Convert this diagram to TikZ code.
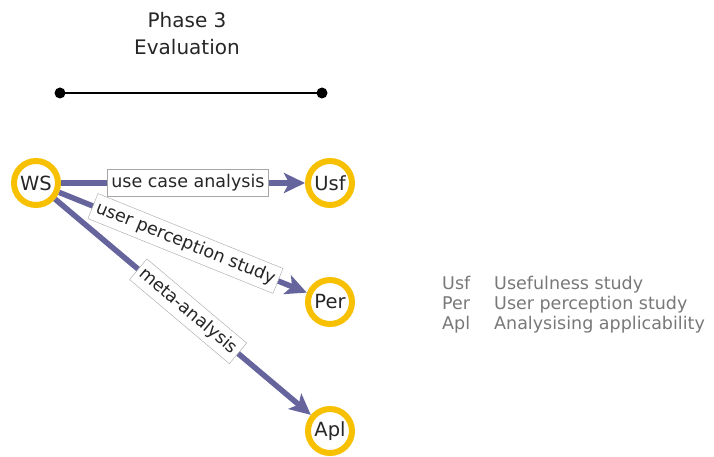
\documentclass[tikz,border=0pt]{standalone}
\usepackage{fontspec}
\setmainfont{DejaVu Sans}
\usetikzlibrary{arrows.meta}
\definecolor{ringyellow}{RGB}{247,192,0}
\definecolor{edgeblue}{RGB}{102,100,156}
\definecolor{legendgrey}{RGB}{120,120,120}
\tikzset{
  phasenode/.style={circle,draw=ringyellow,line width=6pt,fill=white,minimum size=44pt,inner sep=0pt,font=\fontsize{19.5}{22}\selectfont,text=black!85},
  flowedge/.style={draw=edgeblue,line width=5.5pt,-{Stealth[length=21pt,width=20pt,inset=5pt]}},
  edgelabel/.style={fill=white,draw=gray!70,line width=0.4pt,inner xsep=4pt,inner ysep=5pt,font=\fontsize{17.5}{19}\selectfont,text=black!85,sloped}
}
\begin{document}
\begin{tikzpicture}[x=1pt,y=-1pt]
\useasboundingbox (0,0) rectangle (714,457);

% Text Node
\node (title) at (187,34) [align=center,font=\fontsize{20}{27}\selectfont,text=black!85] {Phase 3\\Evaluation};
%Straight Lines
\coordinate (lineA) at (60,93);
\coordinate (lineB) at (322,93);
\draw [line width=1.3pt] (lineA) -- (lineB);
\fill (lineA) circle (5.5);
\fill (lineB) circle (5.5);

% Nodes
\node (WS) at (36,183) [phasenode] {WS};
\node (Usf) at (330,183) [phasenode] {Usf};
\node (Per) at (330,302) [phasenode] {Per};
\node (Apl) at (330,431) [phasenode] {Apl};

% Edges
\draw [flowedge] (WS) -- node [pos=0.52,edgelabel] {use case analysis} (Usf);
\draw [flowedge] (WS) -- node [pos=0.51,edgelabel] {user perception study} (Per);
\draw [flowedge] (WS) -- node [pos=0.52,edgelabel] {meta-analysis} (Apl);

% Legend
\node (legend) at (442,305) [anchor=west,align=left,inner sep=0pt,text=legendgrey,font=\fontsize{17.5}{20}\selectfont] {\makebox[52pt][l]{Usf}Usefulness study\\\makebox[52pt][l]{Per}User perception study\\\makebox[52pt][l]{Apl}Analysising applicability};

\end{tikzpicture}
\end{document}
